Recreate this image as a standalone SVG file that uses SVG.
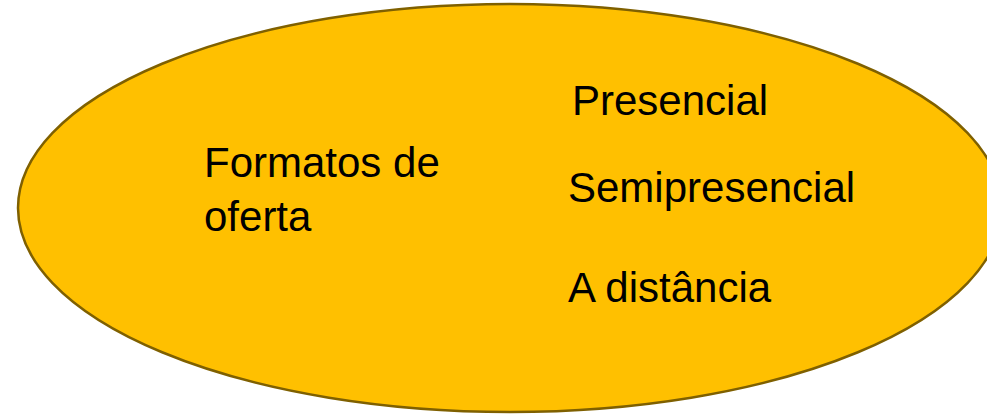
<svg xmlns="http://www.w3.org/2000/svg" width="987" height="414" viewBox="0 0 987 414">
  <style>
    .shape { fill: #FFC000; stroke: #7F6000; stroke-width: 2.5; }
    .label { font-family: "Liberation Sans", Arial, sans-serif; font-size: 42px; fill: #000000; }
  </style>
  <rect width="987" height="414" fill="#FFFFFF"/>
  <g id="node-formatos">
    <ellipse class="shape" cx="510" cy="208" rx="492" ry="204"/>
    <text class="label" x="204" y="177">Formatos de</text>
    <text class="label" x="204" y="231">oferta</text>
  </g>
  <g id="node-presencial">
    <text class="label" x="572" y="115">Presencial</text>
  </g>
  <g id="node-semipresencial">
    <text class="label" x="568" y="202">Semipresencial</text>
  </g>
  <g id="node-distancia">
    <text class="label" x="568" y="302">A distância</text>
  </g>
  <g id="connectors"></g>
</svg>
